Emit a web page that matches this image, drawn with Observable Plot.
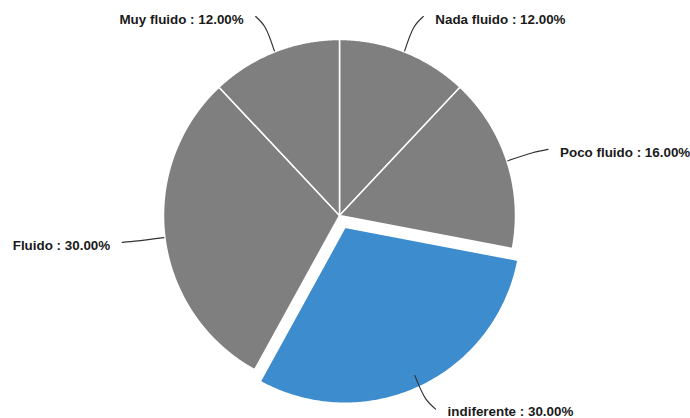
<!DOCTYPE html>
<html><head><meta charset="utf-8">
<script src="https://cdn.jsdelivr.net/npm/d3@7"></script>
<script src="https://cdn.jsdelivr.net/npm/@observablehq/plot@0.6"></script>
<style>body{margin:0;background:#fff}</style>
</head><body><div id="chart"></div>
<script>
const categories = ["Nada fluido", "Poco fluido", "indiferente", "Fluido", "Muy fluido"];
const values = [12, 16, 30, 30, 12];
const highlighted = "indiferente";

const W = 690, H = 418, R = 176, EXPLODE = 13;
const GREY = "#7f7f7f", BLUE = "#3d8ccd";
const total = d3.sum(values);
let acc = 0;
const slices = categories.map((name, i) => {
  const a0 = acc / total * 2 * Math.PI; acc += values[i];
  const a1 = acc / total * 2 * Math.PI;
  return {name, value: values[i], a0, a1, mid: (a0 + a1) / 2};
});
const polar = (r, a) => [r * Math.sin(a), -r * Math.cos(a)];

const slicePts = [];
for (const s of slices) {
  const off = s.name === highlighted ? EXPLODE : 0;
  const [ox, oy] = polar(off, s.mid);
  slicePts.push({name: s.name, x: ox, y: oy});
  const n = 120;
  for (let k = 0; k <= n; k++) {
    const a = s.a0 + (s.a1 - s.a0) * k / n;
    const [x, y] = polar(R, a);
    slicePts.push({name: s.name, x: x + ox, y: y + oy});
  }
  slicePts.push({name: s.name, x: ox, y: oy});
}

const leaderPts = [], labels = [];
for (const s of slices) {
  const side = Math.sin(s.mid) >= 0 ? 1 : -1;
  const [x0, y0] = polar(R + 1, s.mid);
  const [x1, y1] = polar(203, s.mid);
  const [x2r, y2] = polar(214, s.mid);
  const x2 = x2r + side * 5;
  leaderPts.push({name: s.name, x: x0, y: y0}, {name: s.name, x: x1, y: y1}, {name: s.name, x: x2, y: y2});
  labels.push({name: s.name, side, x: x2 + side * 12, y: y2 + 3, text: `${s.name} : ${s.value.toFixed(2)}%`});
}

const textStyle = {fontWeight: "bold", fontSize: 13.4, fontFamily: "Liberation Sans, Arial, sans-serif", fill: "#1a1a1a"};

const chart = Plot.plot({
  width: W, height: H, margin: 0,
  x: {domain: [-339, 351], range: [0, 690], axis: null},
  y: {domain: [-215, 203], range: [0, 418], axis: null},
  color: {domain: categories, range: categories.map(c => c === highlighted ? BLUE : GREY)},
  marks: [
    Plot.line(slicePts, {x: "x", y: "y", z: "name", fill: "name", stroke: "white", strokeWidth: 1.5, strokeLinejoin: "round"}),
    Plot.line(leaderPts, {x: "x", y: "y", z: "name", stroke: "#333", strokeWidth: 1.2, curve: "catmull-rom"}),
    Plot.text(labels.filter(d => d.side > 0), {x: "x", y: "y", text: "text", textAnchor: "start", ...textStyle}),
    Plot.text(labels.filter(d => d.side < 0), {x: "x", y: "y", text: "text", textAnchor: "end", ...textStyle})
  ]
});
document.getElementById("chart").append(chart);
</script>
</body></html>
